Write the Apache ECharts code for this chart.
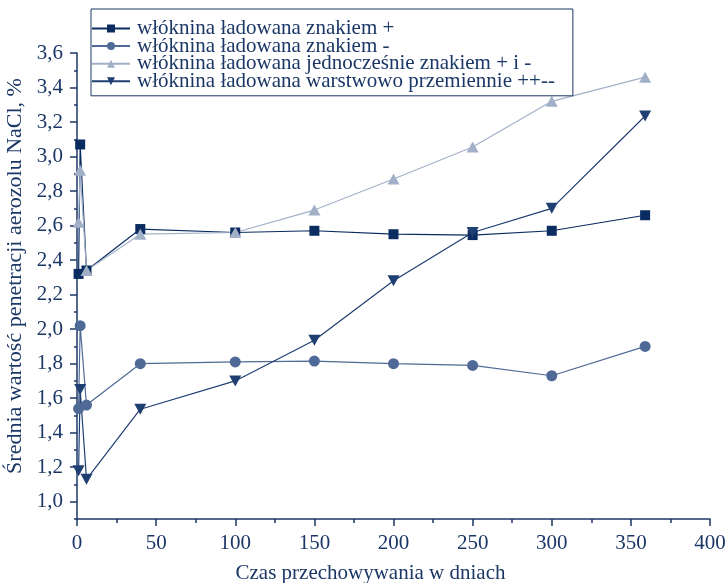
<!DOCTYPE html>
<html>
<head>
<meta charset="utf-8">
<script src="https://cdn.jsdelivr.net/npm/echarts@6/dist/echarts.min.js"></script>
<style>html,body{margin:0;padding:0;background:#fff}#c{width:728px;height:583px}</style>
</head>
<body>
<div id="c"></div>
<script>
// ---- data ----
const days = [1, 2, 6, 40, 100, 150, 200, 250, 300, 359];
const plusVals = [2.32, 3.07, 2.34, 2.58, 2.56, 2.57, 2.55, 2.545, 2.57, 2.66];
const minusVals = [1.54, 2.02, 1.56, 1.80, 1.81, 1.815, 1.80, 1.79, 1.73, 1.90];
const bothVals = [2.62, 2.92, 2.34, 2.55, 2.56, 2.69, 2.87, 3.055, 3.32, 3.46];
const layerVals = [1.18, 1.65, 1.13, 1.536, 1.70, 1.936, 2.28, 2.56, 2.70, 3.235];
const seriesNames = [
  'włóknina ładowana znakiem +',
  'włóknina ładowana znakiem -',
  'włóknina ładowana jednocześnie znakiem + i -',
  'włóknina ładowana warstwowo przemiennie ++--'
];
const yMajorTicks = [1.0, 1.2, 1.4, 1.6, 1.8, 2.0, 2.2, 2.4, 2.6, 2.8, 3.0, 3.2, 3.4, 3.6];
const yMinorTicks = [0.9, 1.1, 1.3, 1.5, 1.7, 1.9, 2.1, 2.3, 2.5, 2.7, 2.9, 3.1, 3.3, 3.5];
const xAxisName = 'Czas przechowywania w dniach';
const yAxisName = 'Średnia wartość penetracji aerozolu NaCl, %';

// ---- chart ----
const axisColor = '#1b3766';
const textColor = '#1b3766';
const font = 'Liberation Serif';
const zip = (xs, ys) => xs.map((x, i) => [x, ys[i]]);

const colors = ['#0b2c60', '#4f6a97', '#a2b0c7', '#1f3e72'];
const symbols = ['rect', 'circle', 'triangle', 'path://M0,0L10,0L5,9Z'];
const sizes = [10, 11, [12, 11], [12, 11]];
const valsList = [plusVals, minusVals, bothVals, layerVals];

const chart = echarts.init(document.getElementById('c'), null, {renderer: 'canvas'});
chart.setOption({
  animation: false,
  backgroundColor: '#fff',
  textStyle: {fontFamily: font},
  grid: {left: 77, right: 18, top: 53, bottom: 64, containLabel: false, outerBoundsMode: 'none'},
  legend: {
    orient: 'vertical',
    left: 91, top: 9,
    backgroundColor: '#fff',
    borderColor: axisColor, borderWidth: 1,
    padding: [9, 18, 4, 0],
    itemGap: -3.4,
    itemWidth: 38, itemHeight: 10,
    textStyle: {fontFamily: font, fontSize: 21, color: textColor, lineHeight: 18, padding: [0, 0, 0, 2]},
    data: seriesNames
  },
  xAxis: {
    type: 'value', min: 0, max: 400, interval: 50,
    name: xAxisName, nameLocation: 'middle', nameGap: 44,
    nameTextStyle: {fontFamily: font, fontSize: 21, color: textColor, padding: [0, 46, 0, 0]},
    axisLine: {show: true, lineStyle: {color: axisColor, width: 1.5}},
    axisTick: {show: true, length: 7, lineStyle: {color: axisColor, width: 1.5}},
    minorTick: {show: true, splitNumber: 2, length: 4, lineStyle: {color: axisColor, width: 1.5}},
    axisLabel: {fontFamily: font, fontSize: 21, color: textColor, margin: 14},
    splitLine: {show: false}
  },
  yAxis: [{
    type: 'value', min: 0.9, max: 3.6, position: 'left',
    name: yAxisName, nameLocation: 'middle', nameGap: 49,
    nameTextStyle: {fontFamily: font, fontSize: 22, color: textColor, padding: [0, 0, 0, 20]},
    axisLine: {show: true, lineStyle: {color: axisColor, width: 1.5}},
    axisTick: {show: true, length: 7, customValues: yMajorTicks, lineStyle: {color: axisColor, width: 1.5}},
    axisLabel: {fontFamily: font, fontSize: 21, color: textColor, margin: 14, customValues: yMajorTicks,
      formatter: v => v.toFixed(1).replace('.', ',')},
    splitLine: {show: false}
  }, {
    type: 'value', min: 0.9, max: 3.6, position: 'left',
    axisLine: {show: false},
    axisTick: {show: true, length: 3, customValues: yMinorTicks, lineStyle: {color: axisColor, width: 1.5}},
    axisLabel: {show: false},
    splitLine: {show: false}
  }],
  series: seriesNames.map((name, i) => ({
    name: name,
    type: 'line',
    yAxisIndex: 0,
    data: zip(days, valsList[i]),
    symbol: symbols[i],
    symbolSize: sizes[i],
    showAllSymbol: true,
    lineStyle: {color: colors[i], width: 1.2},
    itemStyle: {color: colors[i], borderWidth: 0},
    emphasis: {disabled: true}
  }))
});
</script>
</body>
</html>
